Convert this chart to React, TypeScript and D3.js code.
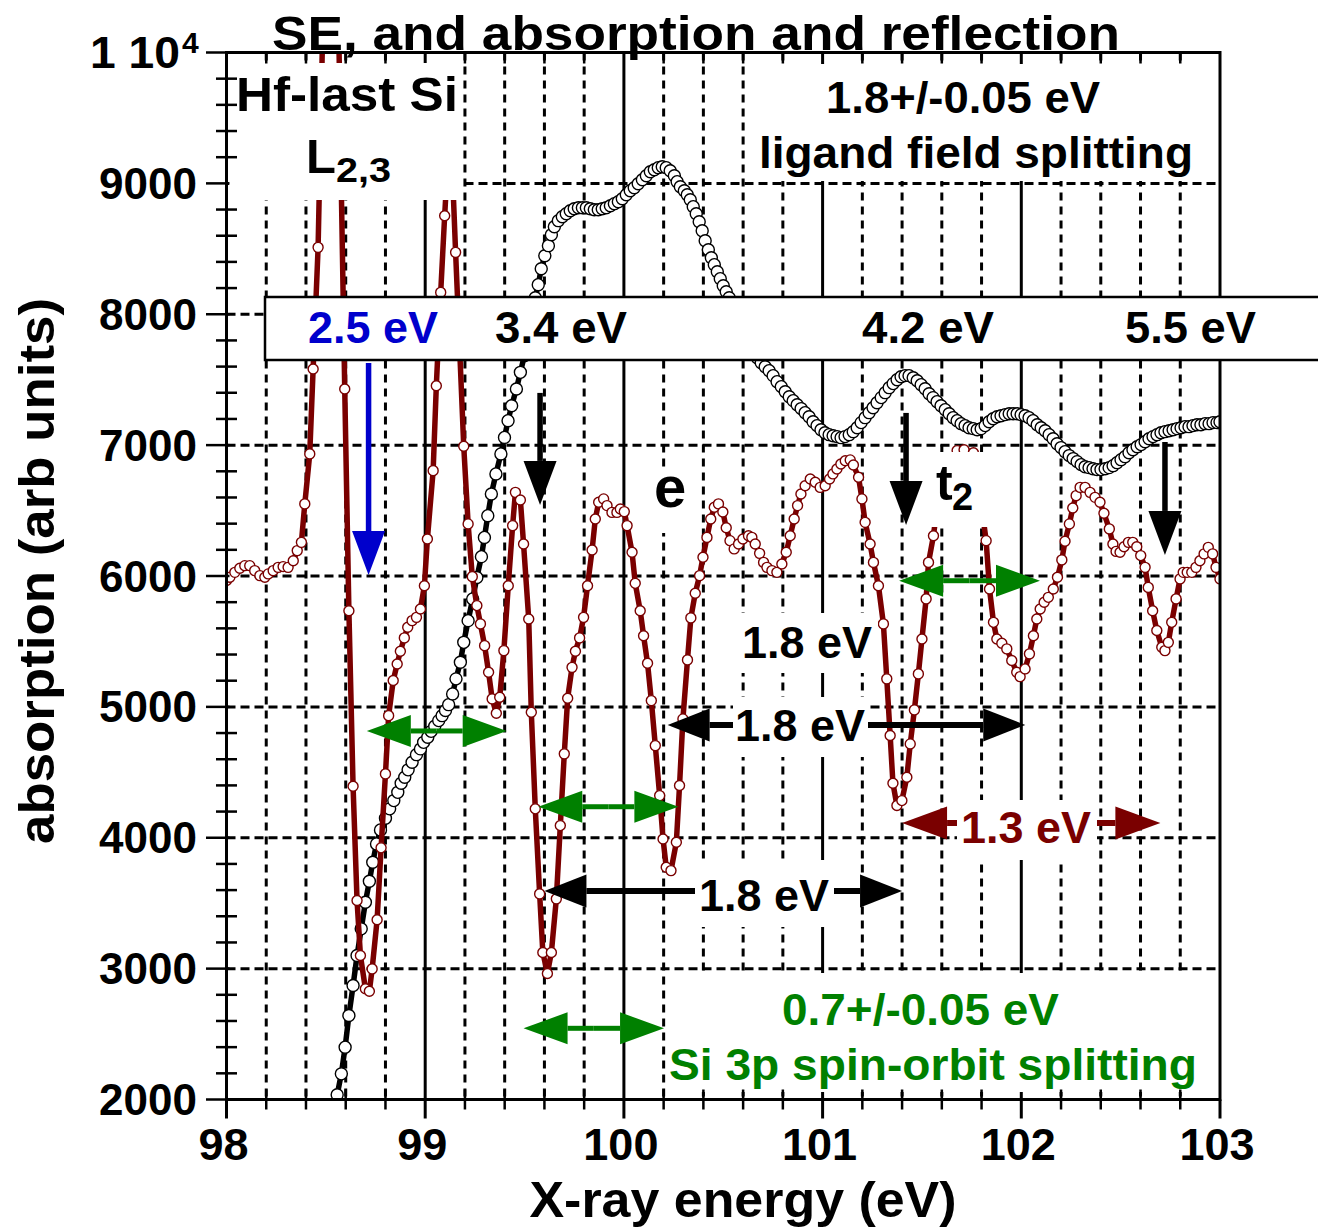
import React from "react";
import * as d3 from "d3";

// Absorption spectrum (dark red trace)
const absEnergy = [
  98.000, 98.017, 98.042, 98.067, 98.092, 98.117, 98.142, 98.168, 98.193, 98.210,
  98.235, 98.260, 98.285, 98.310, 98.336, 98.356, 98.377, 98.394, 98.419, 98.436,
  98.461, 98.483, 98.506, 98.528, 98.550, 98.572, 98.595, 98.616, 98.637, 98.657,
  98.674, 98.699, 98.719, 98.733, 98.758, 98.778, 98.800, 98.816, 98.839, 98.859,
  98.875, 98.895, 98.912, 98.934, 98.956, 98.976, 98.996, 99.011, 99.040, 99.056,
  99.078, 99.098, 99.126, 99.153, 99.194, 99.216, 99.237, 99.260, 99.278, 99.299,
  99.319, 99.337, 99.358, 99.375, 99.396, 99.418, 99.440, 99.454, 99.479, 99.495,
  99.521, 99.534, 99.554, 99.576, 99.592, 99.615, 99.635, 99.660, 99.680, 99.700,
  99.717, 99.739, 99.756, 99.777, 99.797, 99.817, 99.840, 99.856, 99.873, 99.898,
  99.915, 99.940, 99.965, 99.982, 100.002, 100.016, 100.041, 100.057, 100.082, 100.099,
  100.119, 100.138, 100.158, 100.180, 100.197, 100.213, 100.237, 100.264, 100.280, 100.297,
  100.320, 100.337, 100.359, 100.381, 100.398, 100.418, 100.437, 100.455, 100.476, 100.498,
  100.515, 100.534, 100.555, 100.577, 100.599, 100.627, 100.644, 100.661, 100.683, 100.703,
  100.720, 100.745, 100.770, 100.795, 100.817, 100.837, 100.857, 100.874, 100.891, 100.912,
  100.938, 100.963, 100.988, 101.013, 101.035, 101.052, 101.072, 101.092, 101.114, 101.139,
  101.155, 101.181, 101.198, 101.214, 101.239, 101.256, 101.281, 101.306, 101.323, 101.340,
  101.354, 101.374, 101.399, 101.424, 101.441, 101.462, 101.482, 101.500, 101.521, 101.533,
  101.558, 101.580, 101.607, 101.642, 101.677, 101.712, 101.759, 101.793, 101.823, 101.840,
  101.860, 101.877, 101.902, 101.927, 101.952, 101.977, 101.994, 102.019, 102.041, 102.061,
  102.078, 102.095, 102.115, 102.136, 102.161, 102.182, 102.204, 102.220, 102.242, 102.259,
  102.276, 102.296, 102.321, 102.346, 102.371, 102.396, 102.416, 102.443, 102.461, 102.477,
  102.497, 102.517, 102.539, 102.561, 102.581, 102.601, 102.623, 102.639, 102.661, 102.682,
  102.707, 102.723, 102.740, 102.757, 102.779, 102.799, 102.815, 102.835, 102.858, 102.879,
  102.899, 102.920, 102.941, 102.963, 102.980, 103.000,
];
const absValue = [
  5965, 5990, 6028, 6059, 6079, 6079, 6041, 6003, 5990, 6016,
  6041, 6066, 6072, 6066, 6117, 6194, 6257, 6551, 6933, 7582,
  8511, 10090, 11694, 12916, 11617, 9479, 7429, 5735, 4393, 3520,
  3100, 2846, 2827, 2998, 3373, 3923, 4488, 4933, 5201, 5328,
  5425, 5527, 5608, 5659, 5684, 5748, 5926, 6283, 6805, 7454,
  8167, 8753, 9517, 8473, 6991, 6398, 5995, 5774, 5634, 5468,
  5264, 5061, 4951, 5073, 5430, 5926, 6385, 6639, 6581, 6245,
  5672, 4959, 4221, 3571, 3123, 2963, 3123, 3533, 4093, 4641,
  5066, 5302, 5425, 5527, 5684, 5926, 6199, 6436, 6563, 6589,
  6538, 6486, 6486, 6512, 6492, 6385, 6181, 5944, 5735, 5544,
  5333, 5048, 4704, 4322, 3991, 3775, 3749, 3966, 4399, 4908,
  5359, 5680, 5868, 6003, 6143, 6295, 6436, 6525, 6551, 6489,
  6369, 6270, 6207, 6245, 6283, 6308, 6295, 6245, 6173, 6104,
  6066, 6041, 6028, 6092, 6181, 6308, 6436, 6538, 6627, 6690,
  6741, 6716, 6677, 6690, 6741, 6780, 6818, 6856, 6881, 6887,
  6848, 6754, 6589, 6410, 6245, 6104, 5926, 5634, 5214, 4781,
  4416, 4246, 4284, 4462, 4717, 4977, 5252, 5519, 5825, 6104,
  6308, 6576, 6767, 6896, 6958, 6965, 6942, 6614, 6270, 5901,
  5646, 5519, 5486, 5443, 5354, 5264, 5231, 5290, 5405, 5544,
  5672, 5748, 5799, 5837, 5901, 5990, 6123, 6265, 6398, 6520,
  6614, 6677, 6677, 6639, 6601, 6563, 6479, 6360, 6245, 6188,
  6181, 6224, 6257, 6257, 6224, 6156, 6066, 5913, 5735, 5583,
  5455, 5430, 5493, 5646, 5825, 5978, 6028, 6028, 6028, 6066,
  6117, 6169, 6219, 6169, 6066, 5978,
];

// SE / reflection trace (black line, open circles)
const seEnergy = [
  98.557, 98.578, 98.597, 98.616, 98.637, 98.657, 98.678, 98.699, 98.719, 98.736,
  98.755, 98.775, 98.800, 98.821, 98.842, 98.862, 98.879, 98.897, 98.914, 98.934,
  98.956, 98.976, 98.992, 99.013, 99.030, 99.048, 99.068, 99.085, 99.102, 99.118,
  99.138, 99.155, 99.177, 99.194, 99.216, 99.239, 99.260, 99.283, 99.298, 99.315,
  99.333, 99.356, 99.381, 99.399, 99.417, 99.435, 99.459, 99.479, 99.499, 99.519,
  99.539, 99.554, 99.569, 99.584, 99.602, 99.620, 99.635, 99.650, 99.670, 99.690,
  99.710, 99.730, 99.750, 99.771, 99.791, 99.811, 99.831, 99.851, 99.871, 99.891,
  99.911, 99.932, 99.952, 99.972, 99.992, 100.012, 100.032, 100.052, 100.072, 100.093,
  100.113, 100.133, 100.153, 100.173, 100.193, 100.213, 100.233, 100.254, 100.268, 100.284,
  100.304, 100.319, 100.334, 100.349, 100.364, 100.379, 100.394, 100.409, 100.425, 100.440,
  100.455, 100.470, 100.485, 100.500, 100.515, 100.530, 100.550, 100.571, 100.591, 100.611,
  100.631, 100.651, 100.671, 100.691, 100.711, 100.731, 100.751, 100.771, 100.792, 100.812,
  100.832, 100.852, 100.872, 100.892, 100.912, 100.932, 100.952, 100.972, 100.992, 101.012,
  101.033, 101.053, 101.073, 101.093, 101.113, 101.134, 101.154, 101.174, 101.194, 101.214,
  101.234, 101.254, 101.274, 101.295, 101.315, 101.335, 101.355, 101.375, 101.395, 101.415,
  101.435, 101.456, 101.476, 101.496, 101.516, 101.536, 101.556, 101.576, 101.596, 101.617,
  101.637, 101.657, 101.677, 101.697, 101.717, 101.737, 101.758, 101.778, 101.798, 101.818,
  101.838, 101.858, 101.878, 101.898, 101.919, 101.939, 101.959, 101.979, 101.999, 102.019,
  102.039, 102.059, 102.080, 102.100, 102.120, 102.140, 102.160, 102.180, 102.200, 102.220,
  102.241, 102.261, 102.281, 102.301, 102.321, 102.341, 102.361, 102.381, 102.401, 102.422,
  102.442, 102.462, 102.482, 102.502, 102.522, 102.542, 102.562, 102.583, 102.603, 102.623,
  102.643, 102.663, 102.683, 102.703, 102.723, 102.744, 102.764, 102.784, 102.804, 102.824,
  102.844, 102.864, 102.884, 102.904, 102.925, 102.945, 102.965, 102.985, 103.000,
];
const seValue = [
  2036, 2196, 2400, 2642, 2871, 3100, 3304, 3507, 3668, 3813,
  3953, 4060, 4149, 4221, 4284, 4347, 4416, 4462, 4519, 4577,
  4635, 4679, 4729, 4768, 4813, 4852, 4895, 4933, 4972, 5017,
  5099, 5214, 5341, 5493, 5659, 5825, 5988, 6148, 6295, 6461,
  6627, 6780, 6933, 7059, 7187, 7301, 7429, 7556, 7683, 7844,
  8012, 8126, 8226, 8348, 8447, 8524, 8608, 8669, 8715, 8745,
  8768, 8791, 8806, 8814, 8814, 8814, 8806, 8799, 8799, 8806,
  8814, 8829, 8845, 8860, 8883, 8913, 8944, 8967, 8997, 9028,
  9058, 9089, 9104, 9120, 9127, 9120, 9097, 9058, 9013, 8974,
  8944, 8913, 8875, 8822, 8768, 8707, 8638, 8562, 8493, 8432,
  8379, 8325, 8272, 8218, 8172, 8126, 8058, 7981, 7905, 7829,
  7767, 7706, 7668, 7630, 7599, 7569, 7531, 7485, 7447, 7408,
  7370, 7340, 7309, 7279, 7248, 7217, 7179, 7149, 7118, 7095,
  7080, 7072, 7065, 7057, 7065, 7080, 7103, 7133, 7172, 7210,
  7248, 7286, 7324, 7363, 7401, 7439, 7470, 7500, 7523, 7531,
  7531, 7515, 7492, 7462, 7431, 7393, 7363, 7332, 7301, 7271,
  7240, 7210, 7187, 7164, 7149, 7133, 7126, 7118, 7126, 7149,
  7179, 7202, 7217, 7225, 7233, 7240, 7240, 7240, 7233, 7225,
  7210, 7187, 7156, 7133, 7110, 7080, 7049, 7011, 6981, 6950,
  6920, 6897, 6874, 6851, 6835, 6828, 6820, 6813, 6813, 6820,
  6828, 6843, 6866, 6889, 6912, 6942, 6965, 6988, 7004, 7026,
  7049, 7065, 7080, 7095, 7103, 7110, 7118, 7126, 7133, 7141,
  7141, 7149, 7156, 7156, 7164, 7164, 7172, 7172, 7179,
];

// Axis ticks
const xTickValues = [98, 99, 100, 101, 102, 103];
const xTickLabels = ["98", "99", "100", "101", "102", "103"];
const yTickValues = [2000, 3000, 4000, 5000, 6000, 7000, 8000, 9000];
const yTickLabels = ["2000", "3000", "4000", "5000", "6000", "7000", "8000", "9000"];

// Vertical marker arrows: [energy, start value, tip value, colour]
const downArrows: [number, number, number, string][] = [
  [98.715, 7628, 6008, "#0000cc"],
  [99.578, 7399, 6543, "#000"],
  [101.42, 7246, 6390, "#000"],
  [102.723, 7024, 6161, "#000"],
];
// Spin-orbit double arrows: [from, to, value]
const soArrows: [number, number, number][] = [
  [98.706, 99.41, 4816],
  [99.569, 100.274, 4237],
  [99.495, 100.202, 2544],
  [101.385, 102.094, 5964],
];

const FONT = "'Liberation Sans', Arial, Helvetica, sans-serif";
const RED = "#7a0000";
const GREEN = "#008000";
const BLUE = "#0000cc";

const L = 226.5, R = 1220, T = 52.5, B = 1099.5;

function Txt(p: any) {
  const { x, y, children, size, len, fill = "#000", anchor = "start", transform } = p;
  return (
    <text x={x} y={y} fontSize={size} fontWeight="bold" fill={fill} textAnchor={anchor}
      fontFamily={FONT} transform={transform}
      {...(len ? { textLength: len, lengthAdjust: "spacingAndGlyphs" } : {})}>
      {children}
    </text>
  );
}

function HArrow({ x0, x1, y, color, head = 42, hh = 16.5, sw = 6 }: any) {
  const dir = Math.sign(x1 - x0);
  const base = x1 - dir * head;
  return (
    <g>
      <line x1={x0} y1={y} x2={base} y2={y} stroke={color} strokeWidth={sw} />
      <polygon points={`${x1},${y} ${base},${y - hh} ${base},${y + hh}`} fill={color} />
    </g>
  );
}

export default function App() {
  const x = d3.scaleLinear().domain([98, 103]).range([L, R]);
  const y = d3.scaleLinear().domain([2000, 10000]).range([B, T]);

  const absPts: [number, number][] = absEnergy.map((e, i) => [e, absValue[i]]);
  const sePts: [number, number][] = seEnergy.map((e, i) => [e, seValue[i]]);
  const line = d3.line<[number, number]>().x((d) => x(d[0])).y((d) => y(d[1]));

  const minorX = d3.range(0, 26).map((i) => 98 + i * 0.2).filter((v) => Math.abs(v - Math.round(v)) > 0.01);
  const majorInner = [99, 100, 101, 102];
  const minorY = d3.range(2000, 10001, 200).filter((v) => v % 1000 !== 0);
  const gridY = [3000, 4000, 5000, 6000, 7000, 8000, 9000];

  const whiteBoxes = [
    [229, 63, 462, 200],
    [750, 64, 1216, 181],
    [645, 471, 690, 533],
    [926, 452, 991, 527],
    [735, 613, 878, 673],
    [733, 697, 868, 757],
    [695, 860, 834, 927],
    [957, 800, 1097, 860],
    [667, 973, 1217, 1092],
  ];

  return (
    <svg width={1318} height={1232} style={{ position: "absolute", left: 0, top: 0, background: "#fff" }}
      fontFamily={FONT}>
      <rect x={0} y={0} width={1318} height={1232} fill="#fff" />
      <defs>
        <clipPath id="plotClip">
          <rect x={L} y={T} width={R - L} height={B - T} />
        </clipPath>
      </defs>

      {/* grid */}
      {minorX.map((v) => (
        <line key={"gx" + v} x1={x(v)} x2={x(v)} y1={T} y2={B} stroke="#000" strokeWidth={3} strokeDasharray="8 6" />
      ))}
      {majorInner.map((v) => (
        <line key={"gX" + v} x1={x(v)} x2={x(v)} y1={T} y2={B} stroke="#000" strokeWidth={3} />
      ))}
      {gridY.map((v) => (
        <line key={"gy" + v} x1={L} x2={R} y1={y(v)} y2={y(v)} stroke="#000" strokeWidth={3} strokeDasharray="9 5" />
      ))}

      {/* data */}
      <g clipPath="url(#plotClip)">
        <path d={line(sePts) || ""} fill="none" stroke="#000" strokeWidth={5.5} />
        {sePts.map((d, i) => (
          <circle key={"s" + i} cx={x(d[0])} cy={y(d[1])} r={6} fill="#fff" stroke="#000" strokeWidth={1.4} />
        ))}
        <path d={line(absPts) || ""} fill="none" stroke={RED} strokeWidth={5.5} strokeLinejoin="round" />
        {absPts.map((d, i) => (
          <circle key={"a" + i} cx={x(d[0])} cy={y(d[1])} r={5} fill="#fff" stroke={RED} strokeWidth={1.4} />
        ))}
      </g>

      {/* arrows */}
      {downArrows.map(([e, v0, v1, c], i) => {
        const xx = x(e), y0 = y(v0), y1 = y(v1), head = 44;
        return (
          <g key={"da" + i}>
            <line x1={xx} x2={xx} y1={y0} y2={y1 - head} stroke={c} strokeWidth={5.5} />
            <polygon points={`${xx},${y1} ${xx - 16.5},${y1 - head} ${xx + 16.5},${y1 - head}`} fill={c} />
          </g>
        );
      })}
      {soArrows.map(([a, b, v], i) => {
        const yy = y(v), xa = x(a), xb = x(b), mid = (xa + xb) / 2;
        return (
          <g key={"so" + i}>
            <HArrow x0={mid} x1={xa} y={yy} color={GREEN} head={44} hh={16} sw={5} />
            <HArrow x0={mid} x1={xb} y={yy} color={GREEN} head={44} hh={16} sw={5} />
          </g>
        );
      })}
      {/* 1.8 eV ligand-field spacings and 1.3 eV spacing */}
      <HArrow x0={800} x1={x(100.22)} y={y(4862)} color="#000" />
      <HArrow x0={800} x1={x(102.02)} y={y(4862)} color="#000" />
      <HArrow x0={765} x1={x(99.6)} y={y(3593)} color="#000" />
      <HArrow x0={765} x1={x(101.4)} y={y(3593)} color="#000" />
      <HArrow x0={1026} x1={x(101.4)} y={y(4113)} color={RED} head={45} />
      <HArrow x0={1026} x1={x(102.7)} y={y(4113)} color={RED} head={45} />

      {/* label backgrounds */}
      {whiteBoxes.map(([x0, y0, x1, y1], i) => (
        <rect key={"wb" + i} x={x0} y={y0} width={x1 - x0} height={y1 - y0} fill="#fff" />
      ))}

      {/* annotation text */}
      <Txt x={236} y={111} size={48} len={222}>Hf-last Si</Txt>
      <Txt x={306} y={173} size={49}>L</Txt>
      <Txt x={336} y={182} size={35} len={55}>2,3</Txt>
      <Txt x={826} y={113} size={45} len={274}>1.8+/-0.05 eV</Txt>
      <Txt x={759} y={168} size={45} len={434}>ligand field splitting</Txt>
      <Txt x={654} y={507} size={58}>e</Txt>
      <Txt x={936} y={500} size={50}>t</Txt>
      <Txt x={952} y={510} size={38}>2</Txt>
      <Txt x={742} y={658} size={45} len={130}>1.8 eV</Txt>
      <Txt x={735} y={741} size={45} len={130}>1.8 eV</Txt>
      <Txt x={699} y={911} size={45} len={130}>1.8 eV</Txt>
      <Txt x={961} y={843} size={45} len={130} fill={RED}>1.3 eV</Txt>
      <Txt x={782} y={1025} size={45} len={277} fill={GREEN}>0.7+/-0.05 eV</Txt>
      <Txt x={669} y={1080} size={45} len={528} fill={GREEN}>Si 3p spin-orbit splitting</Txt>

      {/* frame and ticks */}
      <rect x={L} y={T} width={R - L} height={B - T} fill="none" stroke="#000" strokeWidth={3} />
      {yTickValues.concat([10000]).map((v) => (
        <line key={"yt" + v} x1={206} x2={L + 3} y1={y(v)} y2={y(v)} stroke="#000" strokeWidth={2.5} />
      ))}
      {minorY.map((v) => (
        <line key={"ym" + v} x1={216} x2={237} y1={y(v)} y2={y(v)} stroke="#000" strokeWidth={2.5} />
      ))}
      {xTickValues.map((v) => (
        <line key={"xt" + v} x1={x(v)} x2={x(v)} y1={B} y2={B + 19} stroke="#000" strokeWidth={3} />
      ))}
      {minorX.map((v) => (
        <g key={"xm" + v}>
          <line x1={x(v)} x2={x(v)} y1={B - 10} y2={B + 10} stroke="#000" strokeWidth={2.5} />
          <line x1={x(v)} x2={x(v)} y1={T} y2={T + 11} stroke="#000" strokeWidth={2.5} />
        </g>
      ))}

      {/* transition energies banner, drawn over the right edge of the frame */}
      <rect x={265} y={297} width={1070} height={63} fill="#fff" stroke="#000" strokeWidth={2.5} />
      <Txt x={308} y={343} size={44} len={130} fill={BLUE}>2.5 eV</Txt>
      <Txt x={495} y={343} size={44} len={132}>3.4 eV</Txt>
      <Txt x={862} y={343} size={44} len={132}>4.2 eV</Txt>
      <Txt x={1125} y={343} size={44} len={131}>5.5 eV</Txt>

      {/* tick labels */}
      {yTickValues.map((v, i) => (
        <Txt key={"yl" + v} x={197} y={y(v) + 15.5} size={44} anchor="end">{yTickLabels[i]}</Txt>
      ))}
      <Txt x={180} y={68} size={44} anchor="end" len={90}>1 10</Txt>
      <Txt x={182} y={53} size={30}>4</Txt>
      {xTickValues.map((v, i) => (
        <Txt key={"xl" + v} x={x(v) - 3} y={1160} size={45} anchor="middle">{xTickLabels[i]}</Txt>
      ))}

      {/* axis titles */}
      <Txt x={743} y={1217} size={50} anchor="middle" len={427}>X-ray energy (eV)</Txt>
      <Txt x={0} y={0} size={50} anchor="middle" len={546} transform="translate(54,571) rotate(-90)">absorption (arb units)</Txt>

      {/* title */}
      <Txt x={272} y={50} size={49} len={848}>SE, and absorption and reflection</Txt>
    </svg>
  );
}
